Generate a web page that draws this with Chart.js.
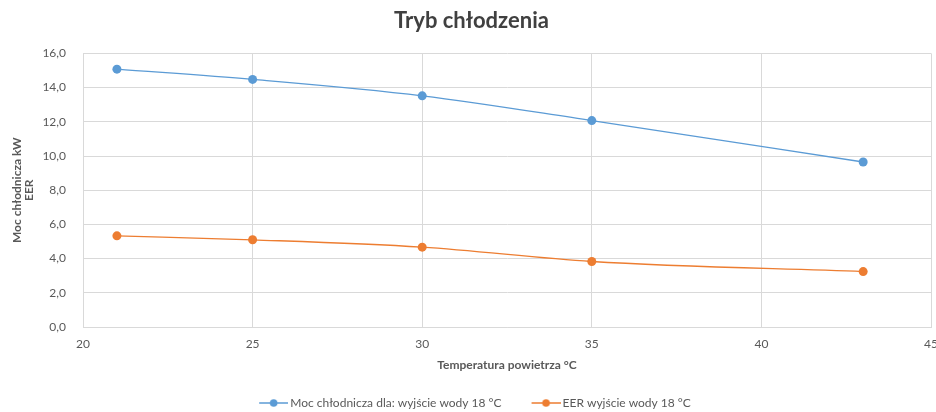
<!DOCTYPE html>
<html>
<head>
<meta charset="utf-8">
<script src="https://cdn.jsdelivr.net/npm/chart.js@4/dist/chart.umd.min.js"></script>
<style>
html,body{margin:0;padding:0;background:#fff;}
#wrap{width:936px;height:412px;position:relative;}
</style>
</head>
<body>
<div id="wrap"><canvas id="c" width="936" height="412"></canvas></div>
<script>
const temperatures = [21, 25, 30, 35, 43];
const coolingPower = [15.08, 14.48, 13.52, 12.07, 9.65];
const eerValues = [5.33, 5.10, 4.67, 3.83, 3.24];
const seriesNames = ['Moc chłodnicza dla: wyjście wody 18 °C', 'EER wyjście wody 18 °C'];
const chartTitle = 'Tryb chłodzenia';
const yTitle = ['Moc chłodnicza kW', 'EER'];
const xTitle = 'Temperatura powietrza °C';

const BLUE = '#5B9BD5', ORANGE = '#ED7D31';
const FONT = 'Lato, "Open Sans", sans-serif';
const BLANK = 19;

function legendIcon(color){
  const cv = document.createElement('canvas');
  cv.width = BLANK + 37; cv.height = 10;
  const g = cv.getContext('2d');
  const x0 = BLANK + 8, x1 = BLANK + 37;
  g.strokeStyle = color; g.lineWidth = 1.5;
  g.beginPath(); g.moveTo(x0,5); g.lineTo(x1,5); g.stroke();
  g.fillStyle = color;
  g.beginPath(); g.arc((x0+x1)/2,5,3.8,0,Math.PI*2); g.fill();
  return cv;
}

const legendShift = {
  id: 'legendShift',
  afterLayout(chart){
    if (chart.legend) { chart.legend.left -= 8; chart.legend.right -= 8; }
  }
};

const ds = (label, vals, color) => ({
  label,
  data: temperatures.map((t,i)=>({x:t, y:vals[i]})),
  borderColor: color,
  backgroundColor: color,
  borderWidth: 1.3,
  pointRadius: 4.5,
  pointHoverRadius: 4.5,
  pointBorderWidth: 0,
  cubicInterpolationMode: 'monotone'
});

new Chart(document.getElementById('c'), {
  type: 'line',
  data: { datasets: [ds(seriesNames[0], coolingPower, BLUE), ds(seriesNames[1], eerValues, ORANGE)] },
  plugins: [legendShift],
  options: {
    responsive: false,
    animation: false,
    devicePixelRatio: 1,
    layout: { padding: { left: 12, right: 5, top: 0, bottom: -7 } },
    plugins: {
      tooltip: { enabled: false },
      title: {
        display: true, text: chartTitle, color: '#404040',
        font: { family: FONT, size: 22, weight: 'bold' },
        padding: { top: 8, bottom: 19 }
      },
      legend: {
        position: 'bottom',
        labels: {
          color: '#595959',
          font: { family: FONT, size: 12 },
          usePointStyle: true,
          pointStyleWidth: BLANK + 29,
          boxHeight: 10,
          padding: 7,
          generateLabels(chart){
            return chart.data.datasets.map((d,i)=>({
              text: d.label, fillStyle: d.borderColor, strokeStyle: d.borderColor,
              pointStyle: legendIcon(d.borderColor), lineWidth: 0, datasetIndex: i, hidden: false,
              fontColor: '#595959'
            }));
          }
        }
      }
    },
    scales: {
      x: {
        type: 'linear', min: 20, max: 45,
        ticks: { stepSize: 5, color: '#595959', font: { family: FONT, size: 12 }, padding: 10 },
        grid: { color: '#d9d9d9', drawTicks: false },
        border: { color: '#d9d9d9' },
        title: { display: true, text: xTitle, color: '#595959', font: { family: FONT, size: 12, weight: 'bold' }, padding: { top: 0, bottom: 18 } },
        afterFit(s){ s.height = 63; s.paddingRight = 0; s.paddingLeft = 0; }
      },
      y: {
        min: 0, max: 16,
        ticks: { stepSize: 2, color: '#595959', font: { family: FONT, size: 12 }, padding: 17,
          callback: v => v.toFixed(1).replace('.', ',') },
        grid: { color: '#d9d9d9', drawTicks: false },
        border: { color: '#d9d9d9' },
        title: { display: true, text: yTitle, color: '#595959', font: { family: FONT, size: 12, weight: 'bold', lineHeight: 1.0 }, padding: { top: -1, bottom: 0 } },
        afterFit(s){ s.width = 71; }
      }
    }
  }
});
</script>
</body>
</html>
